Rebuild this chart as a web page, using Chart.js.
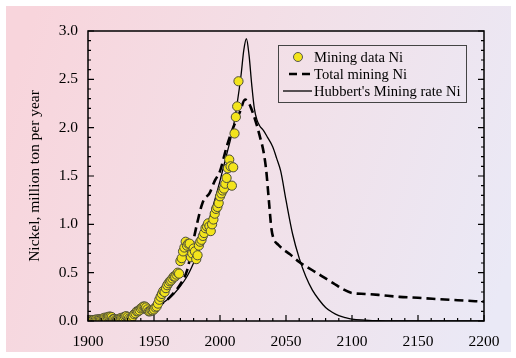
<!DOCTYPE html>
<html>
<head>
<meta charset="utf-8">
<script src="https://cdn.jsdelivr.net/npm/chart.js@4"></script>
<style>
html,body{margin:0;padding:0;background:#fff;}
#c{display:block;width:516px;height:358px;}
</style>
</head>
<body>
<canvas id="c" width="516" height="358"></canvas>
<script>
// ---- Data ----
const miningYears = [1900,1901,1902,1903,1904,1905,1906,1907,1908,1909,1910,1911,1912,1913,1914,1915,1916,1917,1918,1919,
  1920,1921,1922,1923,1924,1925,1926,1927,1928,1929,1930,1931,1932,1933,1934,1935,1936,1937,1938,1939,
  1940,1941,1942,1943,1944,1945,1946,1947,1948,1949,1950,1951,1952,1953,1954,1955,1956,1957,1958,1959,
  1960,1961,1962,1963,1964,1965,1966,1967,1968,1969,1970,1971,1972,1973,1974,1975,1976,1977,1978,1979,
  1980,1981,1982,1983,1984,1985,1986,1987,1988,1989,1990,1991,1992,1993,1994,1995,1996,1997,1998,1999,
  2000,2001,2002,2003,2004,2005,2006,2007,2008,2009,2010,2011,2012,2013,2014];
const miningValues = [0.01,0.01,0.01,0.01,0.01,0.01,0.015,0.015,0.015,0.02,0.02,0.025,0.03,0.035,0.03,0.04,0.045,0.045,0.04,0.02,
  0.02,0.01,0.01,0.02,0.025,0.03,0.035,0.035,0.045,0.05,0.04,0.025,0.015,0.03,0.05,0.07,0.08,0.10,0.10,0.11,
  0.13,0.14,0.15,0.15,0.14,0.12,0.10,0.10,0.11,0.11,0.12,0.14,0.15,0.18,0.22,0.25,0.28,0.31,0.30,0.34,
  0.37,0.39,0.41,0.42,0.44,0.46,0.46,0.48,0.50,0.49,0.62,0.65,0.72,0.76,0.82,0.78,0.80,0.80,0.66,0.70,
  0.75,0.72,0.64,0.68,0.78,0.82,0.84,0.88,0.91,0.96,0.98,1.01,0.98,0.93,1.00,1.05,1.11,1.16,1.18,1.22,
  1.29,1.32,1.35,1.37,1.42,1.48,1.58,1.67,1.60,1.40,1.59,1.94,2.11,2.22,2.48];

const totalYears = [1900,1910,1920,1930,1940,1950,1960,1965,1970,1975,1978,1980,1983,1986,1988,1992,1996,2000,2005,2010,2015,2019,
  2022,2025,2028,2030,2033,2035,2037,2039,2041,2044,2048,2053,2060,2067,2073,2080,2086,2093,2100,2110,2120,2136,2150,2161,2180,2200];
const totalValues = [0.0,0.01,0.02,0.04,0.08,0.13,0.22,0.29,0.38,0.52,0.70,0.84,1.03,1.19,1.26,1.32,1.45,1.55,1.80,2.00,2.16,2.29,
  2.25,2.15,2.02,1.92,1.75,1.56,1.25,0.95,0.84,0.79,0.74,0.69,0.61,0.55,0.50,0.44,0.39,0.33,0.29,0.28,0.27,0.25,0.24,0.23,0.215,0.20];

const hubbertYears = [1900,1910,1920,1930,1940,1950,1955,1960,1965,1970,1975,1980,1985,1990,1995,2000,2005,2010,2013,2016,2018,2020,
  2022,2024,2026,2028,2030,2033,2036,2040,2043,2046,2050,2055,2060,2065,2070,2075,2080,2085,2090,2095,2100,2110,2120,2130,2200];
const hubbertValues = [0.0,0.01,0.02,0.04,0.08,0.13,0.17,0.22,0.28,0.36,0.46,0.60,0.77,0.97,1.20,1.45,1.72,2.00,2.25,2.55,2.80,2.92,
  2.75,2.45,2.20,2.08,2.02,1.97,1.90,1.80,1.68,1.55,1.25,0.90,0.65,0.46,0.32,0.22,0.14,0.09,0.055,0.035,0.02,0.01,0.003,0.0,0.0];

const seriesLabels = ["Mining data Ni", "Total mining Ni", "Hubbert's Mining rate Ni"];
const xTickValues = [1900,1950,2000,2050,2100,2150,2200];
const yTickValues = [0.0,0.5,1.0,1.5,2.0,2.5,3.0];
const yAxisTitle = "Nickel, million ton per year";

const toXY = (xs, ys) => xs.map((x, i) => ({x: x, y: ys[i]}));
const FONT = '"Liberation Serif", "Times New Roman", serif';

const decoPlugin = {
  id: 'deco',
  beforeDraw(chart) {
    const ctx = chart.ctx;
    ctx.save();
    ctx.fillStyle = '#ffffff';
    ctx.fillRect(0, 0, chart.width, chart.height);
    const g = ctx.createLinearGradient(6, 100, 511, 260);
    g.addColorStop(0, '#f8d5dc');
    g.addColorStop(0.5, '#f2e0e8');
    g.addColorStop(1, '#eae9f6');
    ctx.fillStyle = g;
    ctx.fillRect(6, 6, 505, 346);
    ctx.restore();
  },
  afterDatasetsDraw(chart) {
    const ctx = chart.ctx;
    const a = chart.chartArea;
    const xs = chart.scales.x, ys = chart.scales.y;
    ctx.save();
    ctx.strokeStyle = '#000';
    ctx.lineWidth = 1.5;
    ctx.strokeRect(a.left, a.top, a.right - a.left, a.bottom - a.top);
    ctx.lineWidth = 1.2;
    ctx.beginPath();
    for (let v = 1900; v <= 2200; v += 10) {
      const px = xs.getPixelForValue(v);
      const len = (v % 50 === 0) ? 6 : 3;
      ctx.moveTo(px, a.bottom);
      ctx.lineTo(px, a.bottom - len);
    }
    for (let k = 0; k <= 30; k++) {
      const py = ys.getPixelForValue(k / 10);
      const len = (k % 5 === 0) ? 6 : 3;
      ctx.moveTo(a.left, py); ctx.lineTo(a.left + len, py);
      ctx.moveTo(a.right, py); ctx.lineTo(a.right - len, py);
    }
    ctx.stroke();
    ctx.restore();
  },
  afterDraw(chart) {
    const ctx = chart.ctx;
    ctx.save();
    const bx = 278, by = 45, bw = 188, bh = 57;
    ctx.strokeStyle = '#444';
    ctx.lineWidth = 1;
    ctx.strokeRect(bx + 0.5, by + 0.5, bw, bh);
    ctx.font = '14.6px ' + FONT;
    ctx.fillStyle = '#000';
    ctx.textBaseline = 'middle';
    ctx.textAlign = 'left';
    const rows = [57, 74, 91];
    ctx.beginPath();
    ctx.arc(298, rows[0], 4.5, 0, Math.PI * 2);
    ctx.fillStyle = '#f3e41b';
    ctx.fill();
    ctx.strokeStyle = '#555';
    ctx.lineWidth = 1;
    ctx.stroke();
    ctx.strokeStyle = '#000';
    ctx.lineWidth = 2.6;
    ctx.setLineDash([8, 5]);
    ctx.beginPath(); ctx.moveTo(289, rows[1]); ctx.lineTo(312, rows[1]); ctx.stroke();
    ctx.setLineDash([]);
    ctx.lineWidth = 1.3;
    ctx.beginPath(); ctx.moveTo(283, rows[2]); ctx.lineTo(312, rows[2]); ctx.stroke();
    ctx.fillStyle = '#000';
    seriesLabels.forEach((t, i) => ctx.fillText(t, 314, rows[i] + 1));
    ctx.restore();
  }
};

new Chart(document.getElementById('c'), {
  type: 'scatter',
  data: {
    datasets: [
      {
        label: seriesLabels[0],
        data: toXY(miningYears, miningValues),
        showLine: false,
        pointRadius: 4.6,
        pointBackgroundColor: '#f3e41b',
        pointBorderColor: '#4d4d3a',
        pointBorderWidth: 1,
        order: 0
      },
      {
        label: seriesLabels[1],
        data: toXY(totalYears, totalValues),
        showLine: true,
        borderColor: '#000',
        borderWidth: 2.6,
        borderDash: [9, 5],
        pointRadius: 0,
        cubicInterpolationMode: 'monotone',
        order: 1
      },
      {
        label: seriesLabels[2],
        data: toXY(hubbertYears, hubbertValues),
        showLine: true,
        borderColor: '#000',
        borderWidth: 1.3,
        pointRadius: 0,
        cubicInterpolationMode: 'monotone',
        order: 2
      }
    ]
  },
  options: {
    responsive: false,
    animation: false,
    devicePixelRatio: 1,
    layout: { padding: { left: 0, top: 31, right: 32, bottom: 0 } },
    plugins: { legend: { display: false }, tooltip: { enabled: false } },
    scales: {
      x: {
        type: 'linear', min: 1900, max: 2200,
        grid: { display: false, drawTicks: false },
        border: { display: false },
        afterBuildTicks: (s) => { s.ticks = xTickValues.map(v => ({value: v})); },
        afterFit: (s) => { s.height = 37; },
        ticks: { color: '#000', padding: 12, font: { family: FONT, size: 15.5 }, maxRotation: 0, callback: (v) => String(v) }
      },
      y: {
        type: 'linear', min: 0, max: 3,
        grid: { display: false, drawTicks: false },
        border: { display: false },
        afterBuildTicks: (s) => { s.ticks = yTickValues.map(v => ({value: v})); },
        afterFit: (s) => { s.width = 88; },
        ticks: { color: '#000', padding: 10, font: { family: FONT, size: 15.5 }, callback: (v) => Number(v).toFixed(1) },
        title: { display: true, text: yAxisTitle, color: '#000', font: { family: FONT, size: 15.5 }, padding: { top: 26, bottom: 0 } }
      }
    }
  },
  plugins: [decoPlugin]
});
</script>
</body>
</html>
